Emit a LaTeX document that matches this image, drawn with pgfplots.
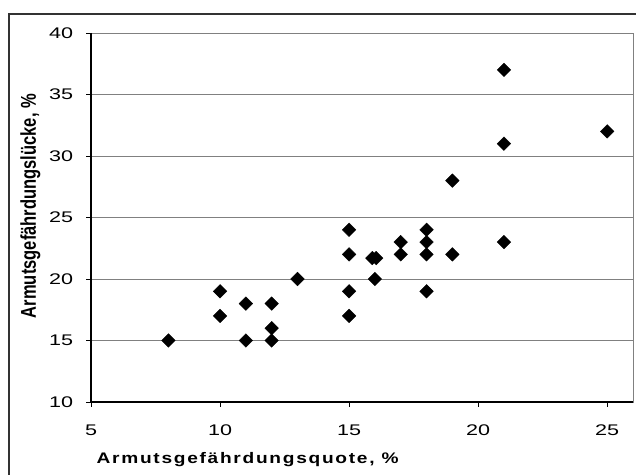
\documentclass[border=0pt]{standalone}
\usepackage{pgfplots}
\pgfplotsset{compat=1.18}
\usepackage{fontspec}
\setmainfont{Liberation Sans}
\definecolor{gridgray}{RGB}{128,128,128}
\definecolor{framegray}{RGB}{50,50,50}
\begin{document}
\fontsize{15bp}{18bp}\selectfont
\begin{tikzpicture}[x=1bp,y=1bp]
\begin{axis}[
  at={(91bp,73bp)}, anchor=south west,
  scale only axis, width=542bp, height=369bp,
  xmin=5, xmax=26, ymin=10, ymax=40,
  xtick={5,10,15,20,25}, ytick={10,15,20,25,30,35,40},
  ymajorgrids, grid style={gridgray, line width=0.9bp},
  axis line style={gridgray, line width=0.9bp},
  tick align=outside, major tick length=5bp,
  tick style={black, line width=0.8bp},
  xtick pos=bottom, ytick pos=left,
  /pgf/number format/assume math mode=true,
  tick label style={font=\fontsize{15.4bp}{18bp}\selectfont, inner sep=0pt, xscale=1.4},
  xticklabel style={anchor=north, yshift=-18bp},
  yticklabel style={anchor=east, xshift=-9bp},
  xlabel={\addfontfeature{LetterSpace=9}Armutsgefährdungsquote, \%},
  ylabel={Armutsgefährdungslücke, \%},
  label style={font=\fontsize{15.3bp}{18bp}\selectfont\bfseries},
  xlabel style={at={(axis description cs:0.289,-0.168)}, anchor=base, xscale=1.25},
  ylabel style={at={(axis description cs:-0.1015,0.531)}, anchor=base, yscale=1.4, xscale=1.08},
  clip=false,
]
\addplot[only marks, mark=square*, mark size=4.8bp, mark options={rotate=45, fill=black, draw=black}]
coordinates {
(8,15) (10,19) (10,17) (11,18) (11,15) (12,18) (12,16) (12,15) (13,20)
(15,24) (15,22) (15,19) (15,17) (15.9,21.7) (16.05,21.7) (16,20)
(17,23) (17,22) (18,24) (18,23) (18,22) (18,19) (19,28) (19,22)
(21,37) (21,31) (21,23) (25,32)
};
\draw[black, line width=1.8bp] (rel axis cs:0,1) -- (rel axis cs:0,0) -- (rel axis cs:1,0);
\end{axis}
\draw[framegray, line width=1.3bp] (9,-10) -- (9,461) -- (650,461);
\pgfresetboundingbox
\useasboundingbox (0,0) rectangle (636,475);
\end{tikzpicture}
\end{document}
